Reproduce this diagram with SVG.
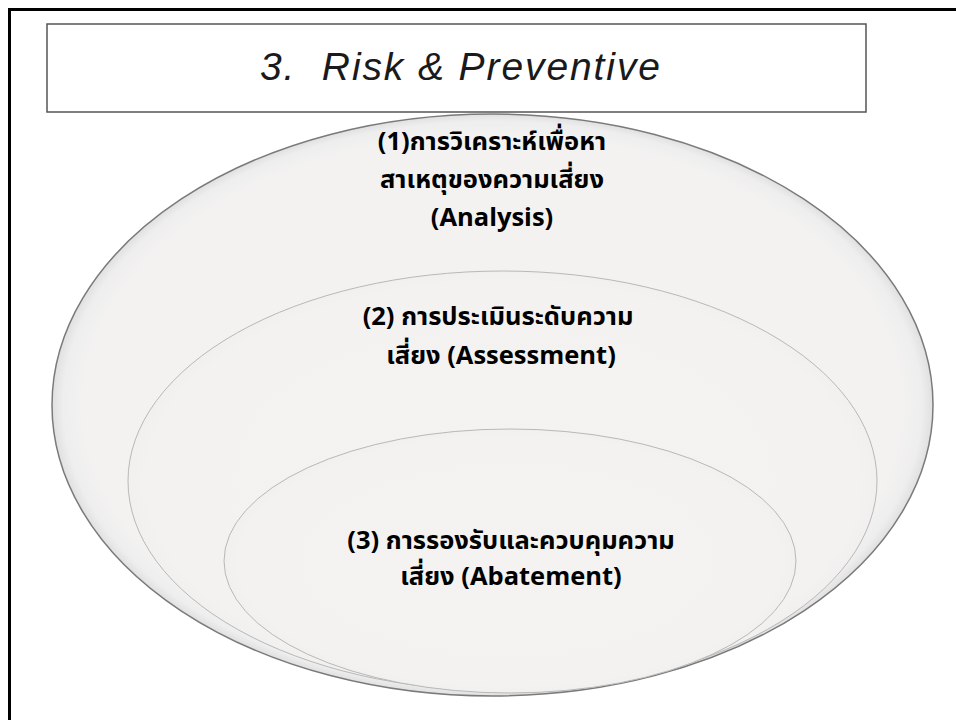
<svg xmlns="http://www.w3.org/2000/svg" width="956" height="720" viewBox="0 0 956 720">
  <defs>
    <radialGradient id="gOuter" cx="0.5" cy="0.5" r="0.5">
      <stop offset="0" stop-color="#f4f2f0"/>
      <stop offset="0.93" stop-color="#f3f2f1"/>
      <stop offset="0.975" stop-color="#eeeeee"/>
      <stop offset="1" stop-color="#e0e0e0"/>
    </radialGradient>
    <radialGradient id="gInner" cx="0.5" cy="0.5" r="0.5">
      <stop offset="0" stop-color="#f5f3f1"/>
      <stop offset="0.95" stop-color="#f4f2f0"/>
      <stop offset="1" stop-color="#f1f0ef"/>
    </radialGradient>
  </defs>
  <style>
    .frame { fill: none; stroke: #000; stroke-width: 3; }
    .titlebox { fill: #fff; stroke: #555; stroke-width: 1.5; }
    .title { font-family: "Liberation Sans", Arial, sans-serif; font-style: italic; font-size: 39px; fill: #1a1a1a; white-space: pre; }
    .outer { fill: url(#gOuter); stroke: #7a7a7a; stroke-width: 1.5; }
    .mid { fill: url(#gInner); stroke: #b8b8b8; stroke-width: 1; }
    .inner { fill: url(#gInner); stroke: #b8b8b8; stroke-width: 1; }
    .lbl { font-family: "Noto Sans Thai", "Tahoma", "Noto Sans", "DejaVu Sans", sans-serif; font-weight: bold; font-size: 25.5px; fill: #000; text-anchor: middle; }
  </style>
  <rect width="956" height="720" fill="#fff"/>
  <path class="frame" d="M9.5,720 V9.5 H956"/>
  <g id="title">
    <rect class="titlebox" x="47" y="24" width="819" height="88"/>
    <text class="title" x="260" y="80" textLength="400" lengthAdjust="spacing" xml:space="preserve">3.  Risk &amp; Preventive</text>
  </g>
  <g id="connectors"></g>
  <g id="analysis">
    <ellipse class="outer" cx="492.5" cy="405" rx="440.5" ry="291"/>
    <text class="lbl" x="492" y="150">(1)การวิเคราะห์เพื่อหา</text>
    <text class="lbl" x="492" y="188">สาเหตุของความเสี่ยง</text>
    <text class="lbl" x="492" y="226">(Analysis)</text>
  </g>
  <g id="assessment">
    <ellipse class="mid" cx="502.5" cy="481" rx="374.5" ry="210"/>
    <text class="lbl" x="498" y="325">(2) การประเมินระดับความ</text>
    <text class="lbl" x="501" y="364">เสี่ยง (Assessment)</text>
  </g>
  <g id="abatement">
    <ellipse class="inner" cx="510" cy="561" rx="286" ry="132"/>
    <text class="lbl" x="511" y="549">(3) การรองรับและควบคุมความ</text>
    <text class="lbl" x="511" y="585">เสี่ยง (Abatement)</text>
  </g>
</svg>
